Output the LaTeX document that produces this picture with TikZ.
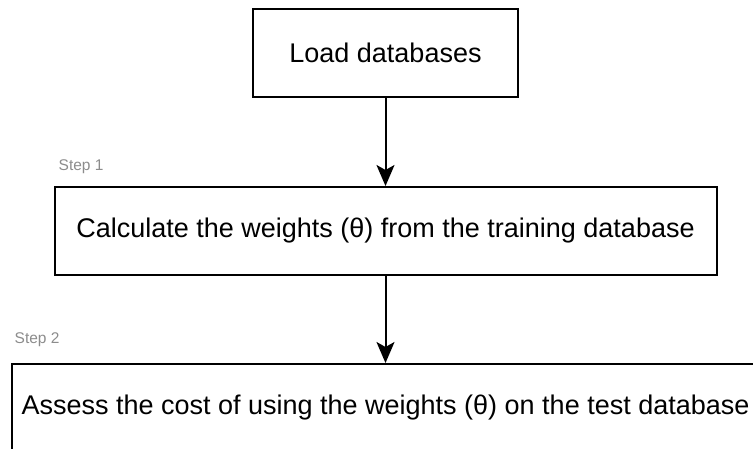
\documentclass[tikz,border=0pt]{standalone}
\usepackage{fontspec}
\setmainfont{Liberation Sans}
\usetikzlibrary{arrows.meta,positioning}
\definecolor{StepGray}{HTML}{8C8C8C}
\tikzset{
  flowbox/.style={
    draw=black,
    line width=2pt,
    minimum height=88pt,
    inner sep=0pt,
    font=\fontsize{27}{32}\selectfont
  },
  flowarrow/.style={-{Stealth[length=21pt,width=18pt,inset=5pt]}, line width=2pt},
  steplabel/.style={text=StepGray, inner sep=0pt, font=\fontsize{15.5}{18}\selectfont}
}

\begin{document}
\begin{tikzpicture}[x=1pt, y=-1pt, node distance=88pt]
  \useasboundingbox (0,0) rectangle (753,448);
  \clip (0,0) rectangle (753,448);
  \node[flowbox, minimum width=265pt] (load) at (385.5,53) {Load databases};
  \node[flowbox, minimum width=662pt, below=of load] (calc) {Calculate the weights (θ) from the training database};
  \node[flowbox, minimum width=748pt, below=87pt of calc] (assess) {Assess the cost of using the weights (θ) on the test database};
  \node[steplabel, above right=12pt and 5pt of calc.north west] (step1) {Step 1};
  \node[steplabel, above right=16pt and 4pt of assess.north west] (step2) {Step 2};
  \draw[flowarrow] (load) -- (calc);
  \draw[flowarrow] (calc) -- (assess);
\end{tikzpicture}
\end{document}
